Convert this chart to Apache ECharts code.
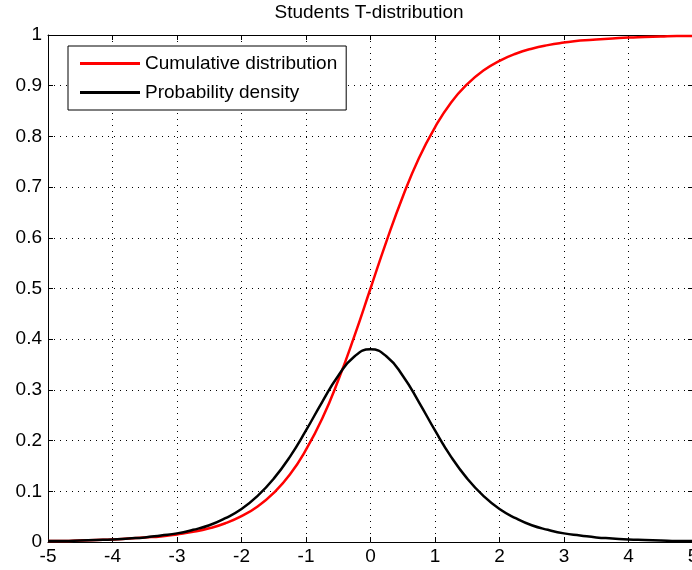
<!DOCTYPE html>
<html>
<head>
<meta charset="utf-8">
<script src="https://cdn.jsdelivr.net/npm/echarts@6/dist/echarts.min.js"></script>
<style>html,body{margin:0;padding:0;background:#fff;}#c{width:692px;height:570px;}</style>
</head>
<body>
<div id="c"></div>
<script>
var xValues = [-5,-4.75,-4.5,-4.25,-4,-3.75,-3.5,-3.25,-3,-2.75,-2.5,-2.25,-2,-1.75,-1.5,-1.25,-1,-0.75,-0.5,-0.25,0,0.25,0.5,0.75,1,1.25,1.5,1.75,2,2.25,2.5,2.75,3,3.25,3.5,3.75,4,4.25,4.5,4.75,5];
var cumulative = [0.002,0.002,0.003,0.004,0.005,0.007,0.009,0.011,0.015,0.020,0.027,0.037,0.051,0.070,0.097,0.133,0.182,0.243,0.319,0.406,0.500,0.594,0.681,0.757,0.818,0.867,0.903,0.930,0.949,0.963,0.973,0.980,0.985,0.989,0.991,0.993,0.995,0.996,0.997,0.998,0.998];
var density = [0.002,0.002,0.003,0.004,0.005,0.007,0.009,0.013,0.017,0.024,0.033,0.047,0.065,0.091,0.125,0.168,0.220,0.276,0.328,0.366,0.380,0.366,0.328,0.276,0.220,0.168,0.125,0.091,0.065,0.047,0.033,0.024,0.017,0.013,0.009,0.007,0.005,0.004,0.003,0.002,0.002];
var seriesNames = ['Cumulative distribution', 'Probability density'];
var titleText = 'Students T-distribution';

function pairs(ys){ return xValues.map(function(x,i){ return [x, ys[i]]; }); }

var FONT = "'Liberation Sans', Arial, sans-serif";
var FS = 19;
var chart = echarts.init(document.getElementById('c'));
var dotted = {show:true, lineStyle:{color:'#000', width:1, type:[1,5]}};
chart.setOption({
  animation:false,
  backgroundColor:'#fff',
  title:{text:titleText, left:369, top:3, padding:0, textAlign:'center',
    textStyle:{fontFamily:FONT, fontSize:FS, fontWeight:'normal', color:'#000'}},
  legend:{
    orient:'vertical', left:68, top:46, padding:[8,9,8,12],
    borderColor:'#000', borderWidth:1, backgroundColor:'#fff',
    itemWidth:60, itemHeight:3, itemGap:10, icon:'rect',
    textStyle:{fontFamily:FONT, fontSize:FS, color:'#000'},
    data:[{name:seriesNames[0], icon:'rect'},{name:seriesNames[1], icon:'rect'}]
  },
  grid:{left:48, top:35, width:645, height:507, containLabel:false, outerBoundsMode:'none'},
  xAxis:[{
    type:'value', min:-5, max:5, interval:1, position:'bottom',
    axisLine:{show:true, onZero:false, lineStyle:{color:'#000', width:1}},
    axisTick:{show:true, inside:true, length:5, lineStyle:{color:'#000'}},
    axisLabel:{color:'#000', fontFamily:FONT, fontSize:FS, margin:5},
    splitLine:dotted
  },{
    type:'value', min:-5, max:5, interval:1, position:'top',
    axisLine:{show:true, onZero:false, lineStyle:{color:'#000', width:1}},
    axisTick:{show:true, inside:true, length:5, lineStyle:{color:'#000'}},
    axisLabel:{show:false}, splitLine:{show:false}
  }],
  yAxis:[{
    type:'value', min:0, max:1, interval:0.1, position:'left',
    axisLine:{show:true, onZero:false, lineStyle:{color:'#000', width:1}},
    axisTick:{show:true, inside:true, length:5, lineStyle:{color:'#000'}},
    axisLabel:{color:'#000', fontFamily:FONT, fontSize:FS, margin:6},
    splitLine:dotted
  },{
    type:'value', min:0, max:1, interval:0.1, position:'right',
    axisLine:{show:true, onZero:false, lineStyle:{color:'#000', width:1}},
    axisTick:{show:true, inside:true, length:5, lineStyle:{color:'#000'}},
    axisLabel:{show:false}, splitLine:{show:false}
  }],
  series:[{
    name:seriesNames[0], type:'line', data:pairs(cumulative), smooth:true,
    showSymbol:false, symbol:'none', color:'#ff0000',
    lineStyle:{color:'#ff0000', width:2.5}, z:3
  },{
    name:seriesNames[1], type:'line', data:pairs(density), smooth:true,
    showSymbol:false, symbol:'none', color:'#000000',
    lineStyle:{color:'#000000', width:2.5}, z:4
  }]
});
</script>
</body>
</html>
